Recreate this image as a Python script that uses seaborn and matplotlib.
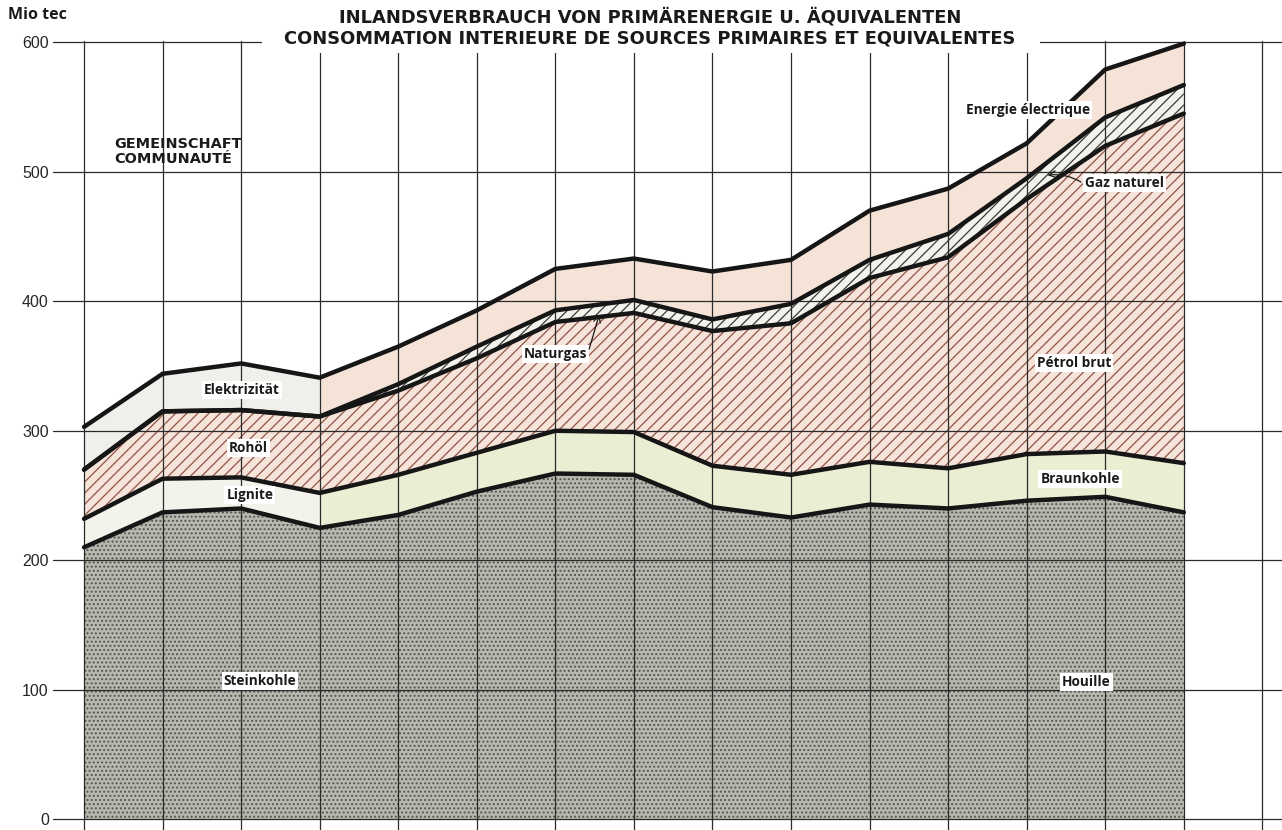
import numpy as np
import seaborn as sns
import matplotlib.pyplot as plt
from matplotlib.patches import Rectangle

# Inlandsverbrauch von Primärenergie - Gemeinschaft (Mio tec)
jahre = [1950, 1951, 1952, 1953, 1954, 1955, 1956, 1957,
         1958, 1959, 1960, 1961, 1962, 1963, 1964]
steinkohle = [210, 237, 240, 225, 235, 253, 267, 266, 241, 233, 243, 240, 246, 249, 237]
braunkohle = [22, 26, 24, 27, 31, 30, 33, 33, 32, 33, 33, 31, 36, 35, 38]
rohoel = [38, 52, 52, 59, 65, 73, 84, 92, 104, 117, 142, 163, 197, 236, 270]
naturgas = [0, 0, 0, 0, 5, 9, 9, 10, 9, 15, 14, 18, 16, 22, 22]
elektrizitaet = [33, 29, 36, 30, 29, 28, 32, 32, 37, 34, 38, 35, 27, 37, 32]

y_ticks = [0, 100, 200, 300, 400, 500, 600]

sns.set_theme(style="white")
plt.rcParams['font.family'] = ['Open Sans', 'DejaVu Sans']
plt.rcParams['hatch.linewidth'] = 0.9

fig = plt.figure(figsize=(12.82, 8.30), dpi=100)
ax = fig.add_axes([53 / 1282, 0, 1 - 53 / 1282, (830 - 41) / 830])

x = np.arange(len(jahre))
s1 = np.array(steinkohle, dtype=float)
s2 = s1 + np.array(braunkohle)
s3 = s2 + np.array(rohoel)
s4 = s3 + np.array(naturgas)
s5 = s4 + np.array(elektrizitaet)
links = x <= 3
rechts = x >= 3

# Flächen
ax.fill_between(x, 0, s1, facecolor="#b6b7ae", edgecolor="#52534c", hatch="....", linewidth=0, zorder=1)
ax.fill_between(x, s1, s2, where=links, facecolor="#f3f3ec", linewidth=0, zorder=1)
ax.fill_between(x, s1, s2, where=rechts, facecolor="#eceed3", linewidth=0, zorder=1)
ax.fill_between(x, s2, s3, facecolor="#f6e3da", edgecolor="#8f5546", hatch="///", linewidth=0, zorder=1)
ax.fill_between(x, s3, s4, facecolor="#f4f2ec", edgecolor="#3a3a3a", hatch="///", linewidth=0, zorder=1)
ax.fill_between(x, s4, s5, where=links, facecolor="#f0efeb", linewidth=0, zorder=1)
ax.fill_between(x, s4, s5, where=rechts, facecolor="#f6e3d7", linewidth=0, zorder=1)

# Grenzlinien
for grenze in [s1, s2, s3, s4, s5]:
    sns.lineplot(x=x, y=grenze, ax=ax, color="#161616", linewidth=3.2,
                 legend=False, zorder=3, sort=False)

ax.set_xlim(-0.395, 15.25)
ax.set_ylim(-8.3, 601)
ax.set_xticks(np.arange(16))
ax.set_xticklabels([])
ax.set_yticks(y_ticks)
ax.set_yticklabels([str(v) for v in y_ticks], fontsize=11.5, family=['Liberation Sans', 'DejaVu Sans'])
ax.tick_params(axis='both', length=0, pad=3)
ax.set_axisbelow(False)
ax.grid(True, color="#2a2a2a", linewidth=0.9)
for sp in ax.spines.values():
    sp.set_visible(False)
ax.set_xlabel("")
ax.set_ylabel("")

# Titel
fig.add_artist(Rectangle((262 / 1282, 1 - 53 / 830), 778 / 1282, 53 / 830,
                         transform=fig.transFigure, facecolor="white", edgecolor="none", zorder=2))
titel_font = ['DejaVu Sans']
fig.text(650 / 1282, 1 - 17 / 830, "INLANDSVERBRAUCH VON PRIMÄRENERGIE U. ÄQUIVALENTEN",
         ha="center", va="center", fontsize=12.9, fontweight="bold", color="#1a1a1a",
         family=titel_font, zorder=3)
fig.text(650 / 1282, 1 - 38 / 830, "CONSOMMATION INTERIEURE DE SOURCES PRIMAIRES ET EQUIVALENTES",
         ha="center", va="center", fontsize=12.9, fontweight="bold", color="#1a1a1a",
         family=titel_font, zorder=3)
fig.text(8 / 1282, 1 - 15 / 830, "Mio tec", ha="left", va="center",
         fontsize=11.5, fontweight="bold", color="#1a1a1a")

ax.text(0.38, 516, "GEMEINSCHAFT\nCOMMUNAUTÉ", ha="left", va="center",
        fontsize=10.4, fontweight="bold", color="#1a1a1a", linespacing=1.1,
        family=['DejaVu Sans'])

box = dict(facecolor="white", edgecolor="none", pad=1.5)
labels = [
    (2.01, 331.5, "Elektrizität"),
    (2.09, 287, "Rohöl"),
    (2.11, 250.5, "Lignite"),
    (2.24, 107, "Steinkohle"),
    (6.0, 359, "Naturgas"),
    (12.02, 547.6, "Energie électrique"),
    (13.25, 491, "Gaz naturel"),
    (12.6, 352, "Pétrol brut"),
    (12.68, 262.7, "Braunkohle"),
    (12.76, 106, "Houille"),
]
for lx, ly, txt in labels:
    ax.text(lx, ly, txt, ha="center", va="center", fontsize=9.8, fontweight="bold",
            color="#1a1a1a", bbox=box, zorder=5)

ax.annotate("", xy=(6.57, 392), xytext=(6.42, 361),
            arrowprops=dict(arrowstyle="->", color="#1a1a1a", lw=0.9), zorder=5)
ax.annotate("", xy=(12.23, 497), xytext=(12.72, 491),
            arrowprops=dict(arrowstyle="->", color="#1a1a1a", lw=0.9,
                            connectionstyle="arc3,rad=0.2"), zorder=5)

fig.savefig("out.png", dpi=100)
